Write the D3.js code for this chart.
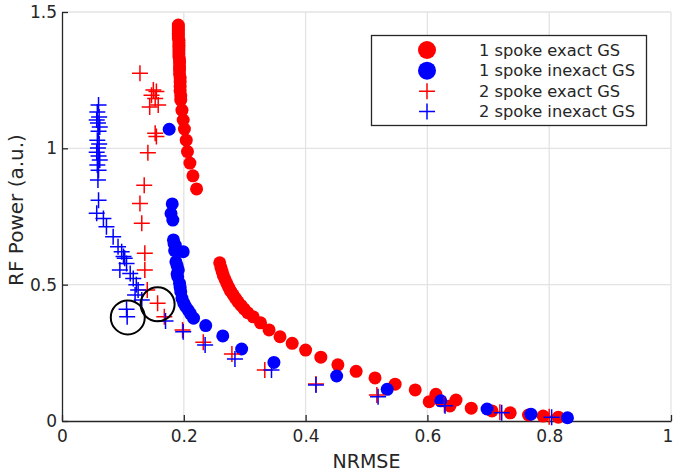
<!DOCTYPE html>
<html><head><meta charset="utf-8">
<script src="https://cdn.jsdelivr.net/npm/d3@7"></script>
<style>body{margin:0;background:#fff}svg{display:block}text{font-family:"DejaVu Sans",sans-serif;fill:#262626}</style>
</head><body><svg id="c" width="673" height="475"></svg>
<script>
// 1 spoke exact GS (red circles)
const oneExactX = [0.191,0.191,0.191,0.191,0.191,0.191,0.191,0.192,0.192,0.192,0.192,0.192,0.192,0.192,0.193,0.193,0.193,0.193,0.193,0.194,0.194,0.194,0.194,0.195,0.195,0.197,0.199,0.201,0.204,0.206,0.210,0.215,0.221,
  0.259,0.261,0.263,0.265,0.268,0.271,0.274,0.277,0.281,0.285,0.289,0.294,0.299,0.305,0.314,0.326,0.340,0.358,0.378,0.400,0.425,0.453,0.483,0.514,0.547,0.580,0.603,0.614,0.637,0.647,0.672,0.706,0.736,0.766,0.790,0.815];
const oneExactY = [1.452,1.445,1.438,1.430,1.422,1.414,1.405,1.396,1.387,1.378,1.368,1.358,1.347,1.336,1.325,1.313,1.300,1.287,1.273,1.258,1.243,1.227,1.210,1.193,1.177,1.140,1.104,1.071,1.030,0.988,0.946,0.899,0.851,
  0.580,0.563,0.548,0.533,0.518,0.503,0.489,0.476,0.463,0.450,0.437,0.424,0.411,0.397,0.382,0.360,0.334,0.309,0.285,0.260,0.234,0.206,0.182,0.158,0.135,0.114,0.071,0.098,0.055,0.077,0.047,0.037,0.030,0.022,0.018,0.014];
// 1 spoke inexact GS (blue circles)
const oneInexactX = [0.176,0.181,0.179,0.182,0.183,0.184,0.186,0.199,0.185,0.187,0.189,0.191,0.189,0.190,0.193,0.194,0.195,0.197,0.200,0.203,0.207,0.211,0.216,0.236,0.264,0.295,0.348,0.451,0.534,0.622,0.698,0.770,0.830];
const oneInexactY = [1.070,0.796,0.761,0.737,0.664,0.650,0.645,0.621,0.625,0.584,0.570,0.554,0.540,0.529,0.505,0.490,0.474,0.450,0.432,0.420,0.407,0.393,0.377,0.350,0.312,0.264,0.215,0.165,0.116,0.074,0.044,0.025,0.012];
// 2 spoke exact GS (red plus)
const twoExactX = [0.128,0.150,0.155,0.147,0.153,0.144,0.158,0.153,0.155,0.141,0.135,0.128,0.131,0.136,0.136,0.140,0.157,0.168,0.198,0.232,0.279,0.333,0.417,0.517,0.628,0.719,0.800];
const twoExactY = [1.275,1.214,1.208,1.195,1.183,1.152,1.159,1.055,1.043,0.984,0.865,0.798,0.725,0.615,0.554,0.480,0.432,0.382,0.334,0.289,0.246,0.187,0.136,0.095,0.060,0.032,0.016];
// 2 spoke inexact GS (blue plus)
const twoInexactX = [0.060,0.058,0.061,0.057,0.059,0.062,0.060,0.058,0.061,0.059,0.057,0.060,0.062,0.058,0.060,0.059,0.060,
  0.057,0.068,0.073,0.084,0.092,0.098,0.101,0.103,0.106,0.095,0.112,0.117,0.122,0.125,0.120,0.131,0.106,0.107,0.170,0.199,0.235,0.284,0.344,0.417,0.519,0.629,0.722,0.804];
const twoInexactY = [1.159,1.133,1.115,1.104,1.093,1.078,1.063,1.030,1.016,1.001,0.986,0.972,0.957,0.939,0.920,0.884,0.810,
  0.762,0.743,0.712,0.676,0.639,0.621,0.603,0.597,0.578,0.554,0.541,0.523,0.500,0.480,0.462,0.444,0.410,0.382,0.367,0.327,0.279,0.227,0.187,0.132,0.089,0.056,0.030,0.014];
// highlighted points (black rings)
const ringX = [0.108, 0.157];
const ringY = [0.380, 0.428];

const xTicks = [0,0.2,0.4,0.6,0.8,1];
const xTickLabels = ["0","0.2","0.4","0.6","0.8","1"];
const yTicks = [0,0.5,1,1.5];
const yTickLabels = ["0","0.5","1","1.5"];
const legendLabels = ["1 spoke exact GS","1 spoke inexact GS","2 spoke exact GS","2 spoke inexact GS"];
const seriesColors = ["#ff0000","#0000ff","#ff0000","#0000ff"];
const seriesShapes = ["circle","circle","plus","plus"];

const svg = d3.select("#c");
const L=62, R=671, T=12, B=421;
const x = d3.scaleLinear().domain([0,1]).range([L,R]);
const y = d3.scaleLinear().domain([0,1.5]).range([B,T]);
const axisCol = "#262626";

// grid
const g = svg.append("g");
g.selectAll(".gx").data(xTicks.slice(1)).join("line")
  .attr("x1",d=>x(d)).attr("x2",d=>x(d)).attr("y1",B).attr("y2",T)
  .attr("stroke","#e3e3e3").attr("stroke-width",1.3);
g.selectAll(".gy").data(yTicks.slice(1)).join("line")
  .attr("x1",L).attr("x2",R).attr("y1",d=>y(d)).attr("y2",d=>y(d))
  .attr("stroke","#e3e3e3").attr("stroke-width",1.3);

// axes
const xa = svg.append("g").attr("transform",`translate(0,${B})`)
  .call(d3.axisBottom(x).tickValues(xTicks).tickFormat((d,i)=>xTickLabels[i]).tickSizeInner(-6).tickSizeOuter(0).tickPadding(9));
const ya = svg.append("g").attr("transform",`translate(${L},0)`)
  .call(d3.axisLeft(y).tickValues(yTicks).tickFormat((d,i)=>yTickLabels[i]).tickSizeInner(-6).tickSizeOuter(0).tickPadding(5));
[xa,ya].forEach(a=>{
  a.select(".domain").attr("stroke",axisCol).attr("stroke-width",1.3);
  a.selectAll(".tick line").attr("stroke",axisCol).attr("stroke-width",1.3);
  a.selectAll(".tick text").attr("font-size",17).attr("font-family","DejaVu Sans").attr("fill",axisCol);
});
// keep the last x label inside the picture
xa.selectAll(".tick text").filter((d,i)=>i===xTicks.length-1).attr("text-anchor","end").attr("dx","0.1em");

// labels
svg.append("text").attr("x",(L+R)/2).attr("y",468).attr("text-anchor","middle").attr("font-size",19).text("NRMSE");
svg.append("text").attr("transform",`translate(23,210) rotate(-90)`).attr("text-anchor","middle").attr("font-size",20).text("RF Power (a.u.)");

const plot = svg.append("g");
function circles(xs,ys,col){
  plot.append("g").selectAll("circle").data(xs.map((v,i)=>[v,ys[i]])).join("circle")
    .attr("cx",d=>x(d[0])).attr("cy",d=>y(d[1])).attr("r",6.5).attr("fill",col);
}
const plusPath = (cx,cy,h)=>`M${cx-h},${cy}H${cx+h}M${cx},${cy-h}V${cy+h}`;
function pluses(xs,ys,col){
  plot.append("g").selectAll("path").data(xs.map((v,i)=>[v,ys[i]])).join("path")
    .attr("d",d=>plusPath(x(d[0]),y(d[1]),8)).attr("stroke",col).attr("stroke-width",1.5).attr("fill","none");
}
circles(oneExactX,oneExactY,seriesColors[0]);
circles(oneInexactX,oneInexactY,seriesColors[1]);
pluses(twoExactX,twoExactY,seriesColors[2]);
pluses(twoInexactX,twoInexactY,seriesColors[3]);

plot.append("g").selectAll("circle").data(ringX.map((v,i)=>[v,ringY[i]])).join("circle")
  .attr("cx",d=>x(d[0])).attr("cy",d=>y(d[1])).attr("r",17).attr("fill","none").attr("stroke","#000").attr("stroke-width",2);

// legend
const lg = svg.append("g");
lg.append("rect").attr("x",371.5).attr("y",35.5).attr("width",275).attr("height",90)
  .attr("fill","#fff").attr("stroke",axisCol).attr("stroke-width",1.3);
const rowsY=[50,70.7,91.3,111.5];
legendLabels.forEach((lab,i)=>{
  if(seriesShapes[i]==="circle"){
    lg.append("circle").attr("cx",427).attr("cy",rowsY[i]).attr("r",9).attr("fill",seriesColors[i]);
  } else {
    lg.append("path").attr("d",plusPath(427,rowsY[i],8)).attr("stroke",seriesColors[i]).attr("stroke-width",1.5);
  }
  lg.append("text").attr("x",479).attr("y",rowsY[i]).attr("dy","0.35em").attr("font-size",16.3).text(lab);
});
</script></body></html>
